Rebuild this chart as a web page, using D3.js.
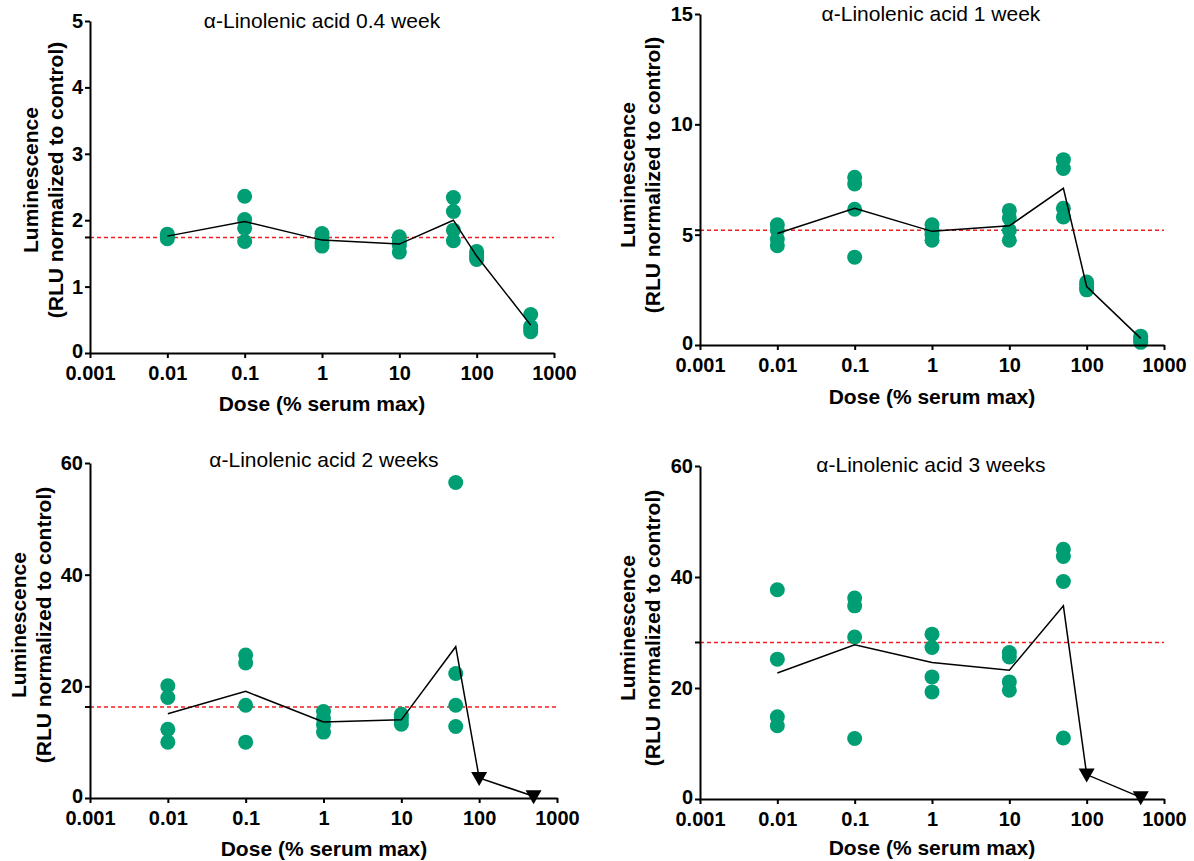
<!DOCTYPE html>
<html>
<head>
<meta charset="utf-8">
<script src="https://cdn.jsdelivr.net/npm/d3@7"></script>
<style>
  html, body { margin: 0; padding: 0; background: #fff; }
  svg { display: block; }
  text { font-family: "Liberation Sans", Arial, sans-serif; fill: #000; }
</style>
</head>
<body>
<svg id="chart" width="1194" height="861"></svg>
<script>
// Dose levels (% of serum max) shared by all four time points
const doses = [0.01, 0.1, 1, 10, 50, 100, 500];
const xTickValues = [0.001, 0.01, 0.1, 1, 10, 100, 1000];
const xTickLabels = ["0.001", "0.01", "0.1", "1", "10", "100", "1000"];

// 0.4 week: replicate readings per dose, mean line, control level
const week04Points = [
  [1.79, 1.76, 1.72],
  [2.36, 2.01, 1.88, 1.68],
  [1.80, 1.74, 1.66, 1.61],
  [1.75, 1.68, 1.62, 1.52],
  [2.34, 2.13, 1.85, 1.69],
  [1.53, 1.48, 1.44, 1.41],
  [0.58, 0.40, 0.36, 0.32]
];
const week04Mean = [1.76, 1.98, 1.70, 1.64, 2.00, 1.46, 0.42];
const week04Control = 1.74;
const week04YTicks = [0, 1, 2, 3, 4, 5];

// 1 week
const week1Points = [
  [5.45, 5.20, 4.80, 4.50],
  [7.60, 7.30, 6.15, 3.98],
  [5.45, 5.20, 5.00, 4.75],
  [6.10, 5.75, 5.20, 4.75],
  [8.40, 8.00, 6.20, 5.80],
  [2.85, 2.75, 2.60, 2.50],
  [0.40, 0.30, 0.20, 0.12]
];
const week1Mean = [5.05, 6.20, 5.15, 5.40, 7.10, 2.65, 0.30];
const week1Control = 5.2;
const week1YTicks = [0, 5, 10, 15];

// 2 weeks (no replicate dots at the two highest doses)
const week2Points = [
  [20.1, 18.0, 12.3, 10.0],
  [25.6, 24.2, 16.6, 10.0],
  [15.5, 14.3, 13.1, 11.8],
  [15.0, 14.4, 13.8, 13.2],
  [56.5, 22.3, 16.6, 12.8],
  [],
  []
];
const week2Mean = [15.1, 19.1, 13.6, 14.0, 27.1, 3.6, 0.3];
const week2Control = 16.3;
const week2YTicks = [0, 20, 40, 60];

// 3 weeks
const week3Points = [
  [37.7, 25.2, 14.8, 13.2],
  [36.2, 34.8, 29.2, 10.9],
  [29.7, 27.3, 22.0, 19.3],
  [26.4, 25.6, 21.1, 19.6],
  [45.0, 43.7, 39.2, 11.0],
  [],
  []
];
const week3Mean = [22.7, 27.8, 24.6, 23.2, 34.8, 4.4, 0.3];
const week3Control = 28.2;
const week3YTicks = [0, 20, 40, 60];

// Doses whose mean is drawn as a down-pointing triangle
const triangleDoses2 = [100, 500];
const triangleDoses3 = [100, 500];

const panels = [
  { title: "\u03b1-Linolenic acid 0.4 week", points: week04Points, mean: week04Mean,
    control: week04Control, yTicks: week04YTicks, yMax: 5, triangles: [],
    x0: 90, x1: 554, yTop: 21, yBottom: 353,
    titleX: 322, titleY: 28, xLabelX: 322, xLabelY: 411,
    yLabelX: 38, yLabelY: 180 },
  { title: "\u03b1-Linolenic acid 1 week", points: week1Points, mean: week1Mean,
    control: week1Control, yTicks: week1YTicks, yMax: 15, triangles: [],
    x0: 700, x1: 1164, yTop: 14, yBottom: 345,
    titleX: 931, titleY: 21, xLabelX: 932, xLabelY: 404,
    yLabelX: 635, yLabelY: 175 },
  { title: "\u03b1-Linolenic acid 2 weeks", points: week2Points, mean: week2Mean,
    control: week2Control, yTicks: week2YTicks, yMax: 60, triangles: triangleDoses2,
    x0: 90, x1: 557, yTop: 463, yBottom: 798,
    titleX: 324, titleY: 467, xLabelX: 324, xLabelY: 856,
    yLabelX: 26, yLabelY: 625 },
  { title: "\u03b1-Linolenic acid 3 weeks", points: week3Points, mean: week3Mean,
    control: week3Control, yTicks: week3YTicks, yMax: 60, triangles: triangleDoses3,
    x0: 700, x1: 1164, yTop: 466, yBottom: 799,
    titleX: 931, titleY: 472, xLabelX: 932, xLabelY: 855,
    yLabelX: 635, yLabelY: 628 }
];

const svg = d3.select("#chart");
const dotColor = "#009e73";

panels.forEach(p => {
  const g = svg.append("g");
  const x = d3.scaleLog().domain([0.001, 1000]).range([p.x0, p.x1]);
  const y = d3.scaleLinear().domain([0, p.yMax]).range([p.yBottom, p.yTop]);

  // control level (dashed red)
  g.append("line")
    .attr("x1", p.x0).attr("x2", p.x1)
    .attr("y1", y(p.control)).attr("y2", y(p.control))
    .attr("stroke", "#f21d1d").attr("stroke-width", 1.5)
    .attr("stroke-dasharray", "4,3");

  // replicate dots
  const dots = [];
  p.points.forEach((vals, i) => vals.forEach(v => dots.push({ dose: doses[i], v })));
  g.selectAll("circle.rep").data(dots).join("circle")
    .attr("class", "rep")
    .attr("cx", d => x(d.dose)).attr("cy", d => y(d.v))
    .attr("r", 7.5).attr("fill", dotColor);

  // mean line
  const meanData = doses.map((d, i) => ({ dose: d, v: p.mean[i] }));
  g.append("path").datum(meanData)
    .attr("fill", "none").attr("stroke", "#000").attr("stroke-width", 1.5)
    .attr("d", d3.line().x(d => x(d.dose)).y(d => y(d.v)));

  // triangle markers at doses without replicate dots
  const tri = meanData.filter(d => p.triangles.includes(d.dose));
  g.selectAll("path.tri").data(tri).join("path")
    .attr("class", "tri")
    .attr("transform", d => `translate(${x(d.dose)},${y(d.v)})`)
    .attr("d", "M-8,-6L8,-6L0,8Z")
    .attr("fill", "#000");

  // axes
  const xAxis = d3.axisBottom(x).tickValues(xTickValues)
    .tickFormat((d, i) => xTickLabels[i]).tickSize(5).tickSizeOuter(0).tickPadding(8);
  const gx = g.append("g").attr("transform", `translate(0,${p.yBottom})`).call(xAxis);
  const yAxis = d3.axisLeft(y).tickValues(p.yTicks).tickFormat(d3.format("d"))
    .tickSize(5).tickSizeOuter(0).tickPadding(2);
  const gy = g.append("g").attr("transform", `translate(${p.x0},0)`).call(yAxis);

  [gx, gy].forEach(ax => {
    ax.select(".domain").attr("stroke", "#000").attr("stroke-width", 2);
    ax.selectAll(".tick line").attr("stroke", "#000").attr("stroke-width", 2);
    ax.selectAll(".tick text")
      .attr("fill", "#000")
      .style("font-family", "'Liberation Sans', Arial, sans-serif")
      .style("font-weight", "bold").style("font-size", "20px");
  });
  // the zero label sits just above the x tick labels
  gy.selectAll(".tick text").filter(d => d === 0).attr("dy", "0.2em");

  // small tick marking the control level on the y axis
  g.append("line")
    .attr("x1", p.x0 - 5).attr("x2", p.x0)
    .attr("y1", y(p.control)).attr("y2", y(p.control))
    .attr("stroke", "#000").attr("stroke-width", 2);

  // titles
  g.append("text").attr("x", p.titleX).attr("y", p.titleY)
    .attr("text-anchor", "middle").style("font-size", "21px")
    .text(p.title);

  g.append("text").attr("x", p.xLabelX).attr("y", p.xLabelY)
    .attr("text-anchor", "middle").style("font-size", "21px").style("font-weight", "bold")
    .text("Dose (% serum max)");

  const yl = g.append("text")
    .attr("transform", `translate(${p.yLabelX},${p.yLabelY}) rotate(-90)`)
    .attr("text-anchor", "middle").style("font-size", "21px").style("font-weight", "bold");
  yl.append("tspan").attr("x", 0).attr("y", 0).text("Luminescence");
  yl.append("tspan").attr("x", 0).attr("y", 25).text("(RLU normalized to control)");
});
</script>
</body>
</html>
